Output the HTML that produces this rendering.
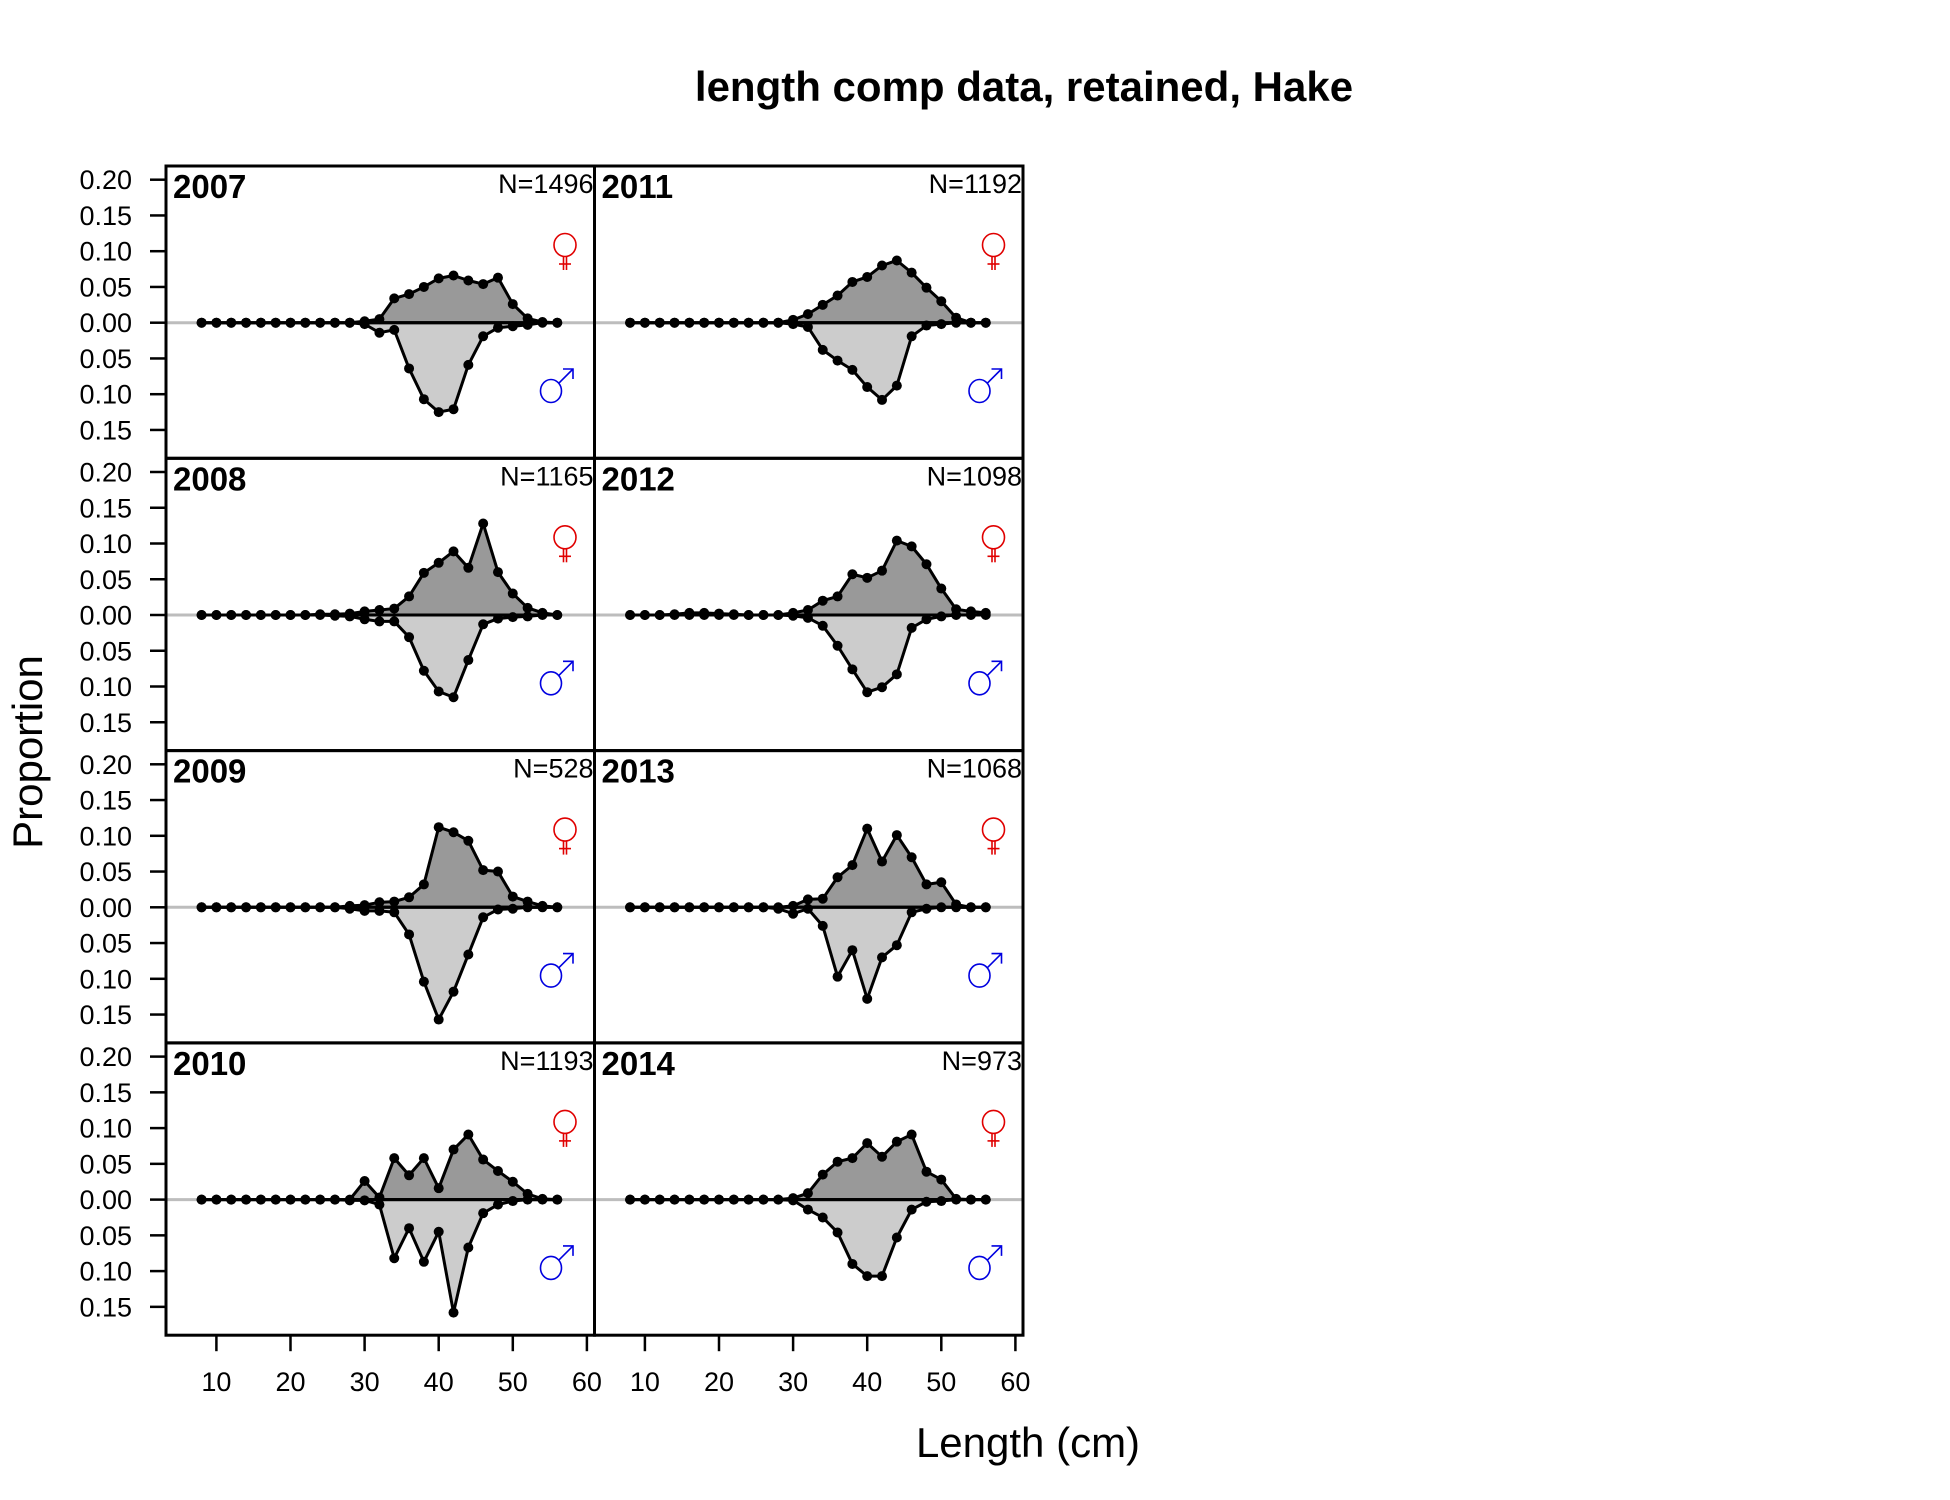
<!DOCTYPE html>
<html><head><meta charset="utf-8"><style>
html,body{margin:0;padding:0;background:#fff;}
svg{display:block;font-family:"Liberation Sans",Arial,sans-serif;}
</style></head><body>
<svg id="chart" width="1950" height="1500" viewBox="0 0 1950 1500" xmlns="http://www.w3.org/2000/svg">
<rect width="1950" height="1500" fill="#fff"/>
<text x="1024" y="101" text-anchor="middle" font-size="42" font-weight="bold">length comp data, retained, Hake</text>
<text transform="translate(42,752) rotate(-90)" text-anchor="middle" font-size="42">Proportion</text>
<text x="1028" y="1457" text-anchor="middle" font-size="42">Length (cm)</text>
<g id="panels"></g>
</svg>
<script>
const lengths = [8,10,12,14,16,18,20,22,24,26,28,30,32,34,36,38,40,42,44,46,48,50,52,54,56];
const years = [2007,2008,2009,2010,2011,2012,2013,2014];
const nSamples = [1496,1165,528,1193,1192,1098,1068,973];
const yTicks = [0.20,0.15,0.10,0.05,0.00,-0.05,-0.10,-0.15];
const xTicks = [10,20,30,40,50,60];
const fem2007 = [0,0,0,0,0,0,0,0,0,0,0,0.002,0.005,0.034,0.040,0.050,0.062,0.066,0.059,0.054,0.063,0.026,0.006,0.001,0];
const mal2007 = [0,0,0,0,0,0,0,0,0,0,0,0.002,0.014,0.010,0.064,0.107,0.125,0.121,0.059,0.019,0.007,0.005,0.003,0,0];
const fem2008 = [0,0,0,0,0,0,0,0,0.001,0.001,0.002,0.005,0.007,0.009,0.026,0.059,0.073,0.089,0.066,0.128,0.060,0.030,0.010,0.003,0];
const mal2008 = [0,0,0,0,0,0,0,0,0,0.001,0.002,0.006,0.009,0.009,0.031,0.078,0.107,0.115,0.063,0.013,0.005,0.003,0.002,0,0];
const fem2009 = [0,0,0,0,0,0,0,0,0,0,0.002,0.003,0.007,0.008,0.014,0.032,0.112,0.105,0.093,0.052,0.050,0.015,0.008,0.002,0];
const mal2009 = [0,0,0,0,0,0,0,0,0,0,0.002,0.005,0.005,0.007,0.038,0.104,0.157,0.118,0.066,0.014,0.003,0.002,0,0,0];
const fem2010 = [0,0,0,0,0,0,0,0,0,0,0,0.026,0.003,0.058,0.034,0.058,0.016,0.070,0.091,0.056,0.040,0.025,0.008,0.001,0];
const mal2010 = [0,0,0,0,0,0,0,0,0,0,0.001,0.001,0.007,0.082,0.040,0.087,0.045,0.158,0.067,0.019,0.007,0.002,0,0,0];
const fem2011 = [0,0,0,0,0,0,0,0,0,0,0,0.004,0.012,0.025,0.038,0.057,0.064,0.080,0.087,0.070,0.049,0.030,0.007,0,0];
const mal2011 = [0,0,0,0,0,0,0,0,0,0,0,0.002,0.006,0.038,0.053,0.066,0.090,0.108,0.088,0.019,0.004,0.002,0,0,0];
const fem2012 = [0,0,0,0.001,0.003,0.003,0.002,0.001,0,0,0,0.003,0.007,0.020,0.026,0.057,0.052,0.062,0.104,0.096,0.071,0.037,0.008,0.005,0.003];
const mal2012 = [0,0,0,0,0,0,0,0,0,0,0,0.001,0.004,0.015,0.043,0.076,0.108,0.101,0.083,0.018,0.006,0.002,0,0,0];
const fem2013 = [0,0,0,0,0,0,0,0,0,0,0,0.002,0.011,0.012,0.042,0.059,0.110,0.064,0.101,0.070,0.032,0.035,0.004,0,0];
const mal2013 = [0,0,0,0,0,0,0,0,0,0,0.002,0.009,0.002,0.026,0.097,0.060,0.128,0.070,0.053,0.007,0.002,0,0,0,0];
const fem2014 = [0,0,0,0,0,0,0,0,0,0,0,0.002,0.009,0.035,0.053,0.058,0.079,0.060,0.081,0.091,0.039,0.028,0.001,0,0];
const mal2014 = [0,0,0,0,0,0,0,0,0,0,0,0.001,0.014,0.025,0.046,0.090,0.107,0.107,0.053,0.014,0.003,0.002,0,0,0];

const females = [fem2007,fem2008,fem2009,fem2010,fem2011,fem2012,fem2013,fem2014];
const males = [mal2007,mal2008,mal2009,mal2010,mal2011,mal2012,mal2013,mal2014];

const NS = "http://www.w3.org/2000/svg";
const panelW = 428.5, panelH = 292.3;
const colLeft = [166, 166 + panelW];
const rowTop = [166, 166 + panelH, 166 + 2*panelH, 166 + 3*panelH];
const bottomY = 166 + 4*panelH;
function xScale(col, len){ return colLeft[col] + 50.4 + (len - 10) * 7.41; }
function yScale(row, v){ return rowTop[row] + 156.7 - v * 715; }
function mk(tag, attrs, parent){
  const e = document.createElementNS(NS, tag);
  for (const k in attrs) e.setAttribute(k, attrs[k]);
  parent.appendChild(e);
  return e;
}
const root = document.getElementById('panels');

years.forEach((yr, i) => {
  const col = i < 4 ? 0 : 1, row = i % 4;
  const g = mk('g', {}, root);
  
  
  const x0 = colLeft[col], y0 = rowTop[row];
  const zy = yScale(row, 0);
  const zl = mk('line', {x1:x0, x2:x0+panelW, y1:zy, y2:zy, stroke:'#bdbdbd', 'stroke-width':3}, g);
  
  
  const f = females[i], m = males[i];
  const fx0 = xScale(col, lengths[0]), fx1 = xScale(col, lengths[lengths.length-1]);
  let fp = lengths.map((L, k) => xScale(col, L) + ',' + yScale(row, f[k])).join(' ');
  const fpoly = mk('polygon', {points: fx0+','+zy+' '+fp+' '+fx1+','+zy, fill:'#999999', stroke:'#000', 'stroke-width':3, 'stroke-linejoin':'round'}, g);
  
  
  let mp = lengths.map((L, k) => xScale(col, L) + ',' + yScale(row, -m[k])).join(' ');
  const mpoly = mk('polygon', {points: fx0+','+zy+' '+mp+' '+fx1+','+zy, fill:'#cccccc', stroke:'#000', 'stroke-width':3, 'stroke-linejoin':'round'}, g);
  
  
  mk('line', {x1:fx0, x2:fx1, y1:zy, y2:zy, stroke:'#000', 'stroke-width':3}, g);
  lengths.forEach((L, k) => {
    const c1 = mk('circle', {cx:xScale(col, L), cy:yScale(row, f[k]), r:5, fill:'#000'}, g);
    
    
    const c2 = mk('circle', {cx:xScale(col, L), cy:yScale(row, -m[k]), r:5, fill:'#000'}, g);
    
    
  });
  const br = mk('rect', {x:x0, y:y0, width:panelW, height:panelH, fill:'none', stroke:'#000', 'stroke-width':3}, g);
  
  
  const yl = mk('text', {x:x0+7, y:y0+32, 'font-size':33, 'font-weight':'bold'}, g);
  yl.textContent = yr;
  
  
  const nl = mk('text', {x:x0+panelW-1, y:y0+27, 'font-size':27, 'text-anchor':'end'}, g);
  nl.textContent = 'N=' + nSamples[i];
  
  
  const sx = x0 + 400;
  const fs = mk('g', {stroke:'#e00000', fill:'none', 'stroke-width':1.6}, g);
  
  
  mk('ellipse', {cx:sx-1, cy:y0+79, rx:11, ry:11.5}, fs);
  mk('line', {x1:sx-2.5, x2:sx-2.5, y1:y0+90, y2:y0+104}, fs);
  mk('line', {x1:sx+0.5, x2:sx+0.5, y1:y0+90, y2:y0+104}, fs);
  mk('line', {x1:sx-7, x2:sx+5, y1:y0+98, y2:y0+98}, fs);
  const ms = mk('g', {stroke:'#0000e0', fill:'none', 'stroke-width':1.6}, g);
  
  
  mk('ellipse', {cx:sx-15, cy:y0+225, rx:10.5, ry:11.5}, ms);
  mk('line', {x1:sx-7, x2:sx+7, y1:y0+217, y2:y0+203}, ms);
  mk('polyline', {points:(sx-3)+','+(y0+203)+' '+(sx+7)+','+(y0+203)+' '+(sx+7)+','+(y0+213)}, ms);
  if (col === 0) {
    yTicks.forEach(t => {
      const ty = yScale(row, t);
      mk('line', {x1:150, x2:166, y1:ty, y2:ty, stroke:'#000', 'stroke-width':2.5}, g);
      const tl = mk('text', {x:132, y:ty+9.5, 'font-size':27, 'text-anchor':'end'}, g);
      tl.textContent = Math.abs(t).toFixed(2);
      
      
    });
  }
  if (row === 3) {
    xTicks.forEach(t => {
      const tx = xScale(col, t);
      mk('line', {x1:tx, x2:tx, y1:bottomY, y2:bottomY+16, stroke:'#000', 'stroke-width':2.5}, g);
      const tl = mk('text', {x:tx, y:1391, 'font-size':27, 'text-anchor':'middle'}, g);
      tl.textContent = t;
      
      
    });
  }
});
</script>
</body></html>
